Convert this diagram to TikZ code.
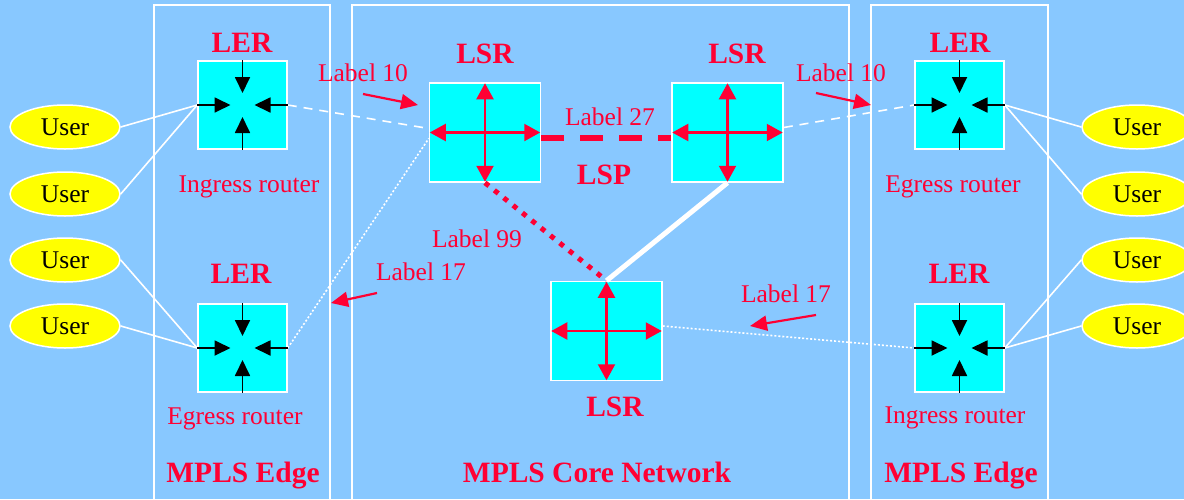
\documentclass[tikz,border=0pt]{standalone}
\usepackage{fontspec}
\setmainfont{Liberation Serif}
\usetikzlibrary{arrows.meta,calc,shapes.geometric}
\definecolor{bg}{RGB}{136,200,255}
\definecolor{myred}{RGB}{255,0,51}
\definecolor{mycyan}{RGB}{0,255,255}
\definecolor{myyellow}{RGB}{255,255,0}
\begin{document}
\begin{tikzpicture}[x=1pt,y=-1pt,
  txt/.style={font=\fontsize{25.5}{30}\selectfont, text=myred, inner sep=0, anchor=base},
  btxt/.style={font=\fontsize{29.5}{34}\selectfont\bfseries, text=myred, inner sep=0, anchor=base},
  user/.style={ellipse, draw=white, line width=1.5pt, fill=myyellow, minimum width=110pt, minimum height=44pt, inner sep=0, font=\fontsize{25.5}{30}\selectfont},
  ler/.style={draw=white, line width=1.5pt, fill=mycyan, minimum width=89pt, minimum height=88pt, inner sep=0},
  lsr/.style={draw=white, line width=1.5pt, fill=mycyan, minimum width=111pt, minimum height=99pt, inner sep=0},
  panel/.style={draw=white, line width=1.5pt},
  inarrow/.style={black, line width=1.8pt, -{Triangle[length=16pt,width=15pt]}},
  lsrarrow/.style={myred, line width=2.2pt, {Triangle[length=16pt,width=17pt]}-{Triangle[length=16pt,width=17pt]}},
  lblarrow/.style={myred, line width=2.2pt, -{Triangle[length=17pt,width=15pt]}},
  wline/.style={white, line width=1.6pt}
]
\useasboundingbox (0,0) rectangle (1184,499);
\clip (0,0) rectangle (1184,499);
\fill[bg] (0,0) rectangle (1184,499);

% panels
\draw[panel] (154,505) -- (154,5) -- (330,5) -- (330,505);
\draw[panel] (352,505) -- (352,5) -- (849,5) -- (849,505);
\draw[panel] (871,505) -- (871,5) -- (1048,5) -- (1048,505);

% users
\node[user] (u1) at (65,127) {User};
\node[user] (u2) at (65,194) {User};
\node[user] (u3) at (65,260) {User};
\node[user] (u4) at (65,326) {User};
\node[user] (u5) at (1137,127) {User};
\node[user] (u6) at (1137,194) {User};
\node[user] (u7) at (1137,260) {User};
\node[user] (u8) at (1137,326) {User};

% LER boxes
\node[ler] (lerTL) at (242.5,105) {};
\node[ler] (lerBL) at (242.5,348) {};
\node[ler] (lerTR) at (959.5,105) {};
\node[ler] (lerBR) at (959.5,348) {};

% LSR boxes
\node[lsr] (lsrTL) at (485,132.5) {};
\node[lsr] (lsrTR) at (727.5,132.5) {};
\node[lsr] (lsrB) at (606.5,331) {};

% user connectors
\draw[wline] (u1.east) -- (lerTL.west);
\draw[wline] (u2.east) -- (lerTL.west);
\draw[wline] (u3.east) -- (lerBL.west);
\draw[wline] (u4.east) -- (lerBL.west);
\draw[wline] (u5.west) -- (lerTR.east);
\draw[wline] (u6.west) -- (lerTR.east);
\draw[wline] (u7.west) -- (lerBR.east);
\draw[wline] (u8.west) -- (lerBR.east);

% links
\draw[wline, dash pattern=on 9pt off 7pt] (lerTL.east) -- ([yshift=4pt]lsrTL.west);
\draw[wline, dash pattern=on 9pt off 7pt] ([yshift=5pt]lsrTR.east) -- (lerTR.west);
\draw[wline, dash pattern=on 2pt off 2pt] (lerBL.east) -- ([yshift=-6pt]lsrTL.west);
\draw[wline, dash pattern=on 2pt off 2pt] ([yshift=5pt]lsrB.east) -- (lerBR.west);
\draw[myred, line width=6pt, dash pattern=on 23pt off 16pt] ([yshift=-5.5pt]lsrTL.east) -- ([yshift=-5.5pt]lsrTR.west);
\draw[myred, line width=5pt, dash pattern=on 5pt off 7pt] (lsrTL.south) -- (lsrB.north);
\draw[white, line width=5pt] (lsrTR.south) -- (lsrB.north);

% LER inward arrows
\foreach \n in {lerTL,lerBL,lerTR,lerBR}{
  \draw[inarrow] (\n.north) -- ($(\n.center)+(0,-12)$);
  \draw[inarrow] (\n.south) -- ($(\n.center)+(0,12)$);
  \draw[inarrow] (\n.west) -- ($(\n.center)+(-12,0)$);
  \draw[inarrow] (\n.east) -- ($(\n.center)+(12,0)$);
}
% LSR arrows
\foreach \n in {lsrTL,lsrTR,lsrB}{
  \draw[lsrarrow] ([xshift=1pt]\n.west) -- ([xshift=-1pt]\n.east);
  \draw[lsrarrow] ([yshift=-1pt]\n.north) -- ([yshift=1pt]\n.south);
}

% label arrows
\coordinate (a1s) at (363,94); \coordinate (a1e) at (418,105);
\coordinate (a2s) at (816,93); \coordinate (a2e) at (871,105);
\coordinate (a3s) at (377,293); \coordinate (a3e) at (331,303);
\coordinate (a4s) at (816,315); \coordinate (a4e) at (750,326);
\draw[lblarrow] (a1s) -- (a1e);
\draw[lblarrow] (a2s) -- (a2e);
\draw[lblarrow] (a3s) -- (a3e);
\draw[lblarrow] (a4s) -- (a4e);

% texts
\node[btxt] (t1) at (242,52) {LER};
\node[btxt] (t2) at (241,283) {LER};
\node[btxt] (t3) at (960,52) {LER};
\node[btxt] (t4) at (959,283) {LER};
\node[btxt] (t5) at (485,63) {LSR};
\node[btxt] (t6) at (737,63) {LSR};
\node[btxt] (t7) at (615,416) {LSR};
\node[btxt] (t8) at (604,184) {LSP};
\node[btxt] (t9) at (243,482) {MPLS Edge};
\node[btxt] (t10) at (597,482) {MPLS Core Network};
\node[btxt] (t11) at (961,482) {MPLS Edge};
\node[txt] (l1) at (249,192) {Ingress router};
\node[txt] (l2) at (235,424) {Egress router};
\node[txt] (l3) at (953,192) {Egress router};
\node[txt] (l4) at (955,423) {Ingress router};
\node[txt] (l5) at (363,81) {Label 10};
\node[txt] (l6) at (841,81) {Label 10};
\node[txt] (l7) at (610,125) {Label 27};
\node[txt] (l8) at (477,247) {Label 99};
\node[txt] (l9) at (421,280) {Label 17};
\node[txt] (l10) at (786,302) {Label 17};
\end{tikzpicture}
\end{document}
